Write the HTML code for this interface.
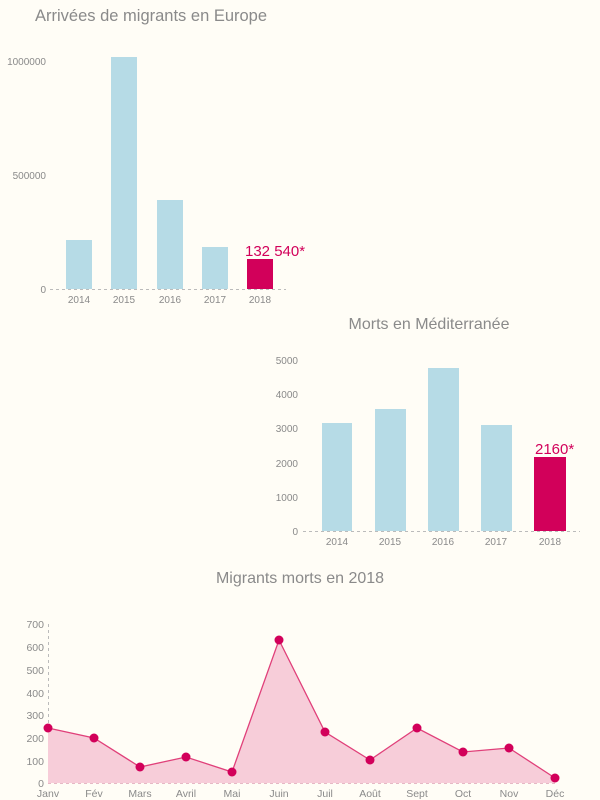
<!DOCTYPE html>
<html><head><meta charset="utf-8"><style>
html,body{margin:0;padding:0;background:#fffdf6;}
svg{display:block;font-family:"Liberation Sans",sans-serif;}
</style></head><body>
<svg width="600" height="800" viewBox="0 0 600 800" xmlns="http://www.w3.org/2000/svg">
<rect width="600" height="800" fill="#fffdf6"/>
<!-- Chart 1 -->
<text x="35" y="21" font-size="16.5" fill="#8a8a8a">Arrivées de migrants en Europe</text>
<g font-size="10" fill="#8a8a8a" text-anchor="end">
<text x="46" y="65">1000000</text>
<text x="46" y="179">500000</text>
<text x="46" y="293">0</text>
</g>
<g fill="#b6dbe6">
<rect x="66" y="240" width="26" height="49"/>
<rect x="111" y="57" width="26" height="232"/>
<rect x="157" y="200" width="26" height="89"/>
<rect x="202" y="247" width="26" height="42"/>
</g>
<rect x="247" y="259" width="26" height="30" fill="#d2005a"/>
<line x1="50" y1="289.5" x2="286" y2="289.5" stroke="#bbb" stroke-dasharray="3,3"/>
<text x="245" y="256" font-size="15" fill="#d2005a">132 540*</text>
<g font-size="10" fill="#8a8a8a" text-anchor="middle">
<text x="79" y="303">2014</text><text x="124" y="303">2015</text><text x="170" y="303">2016</text><text x="215" y="303">2017</text><text x="260" y="303">2018</text>
</g>
<!-- Chart 2 -->
<text x="429" y="329" font-size="16" fill="#8a8a8a" text-anchor="middle">Morts en Méditerranée</text>
<g font-size="10" fill="#8a8a8a" text-anchor="end">
<text x="298" y="364">5000</text><text x="298" y="398">4000</text><text x="298" y="432">3000</text><text x="298" y="467">2000</text><text x="298" y="501">1000</text><text x="298" y="535">0</text>
</g>
<g fill="#b6dbe6">
<rect x="322" y="423" width="30" height="108"/>
<rect x="375" y="409" width="31" height="122"/>
<rect x="428" y="368" width="31" height="163"/>
<rect x="481" y="425" width="31" height="106"/>
</g>
<rect x="534" y="457" width="32" height="74" fill="#d2005a"/>
<line x1="303" y1="531.5" x2="580" y2="531.5" stroke="#bbb" stroke-dasharray="3,3"/>
<text x="535" y="454" font-size="15" fill="#d2005a">2160*</text>
<g font-size="10" fill="#8a8a8a" text-anchor="middle">
<text x="337" y="545">2014</text><text x="390" y="545">2015</text><text x="443" y="545">2016</text><text x="496" y="545">2017</text><text x="550" y="545">2018</text>
</g>
<!-- Chart 3 -->
<text x="300" y="583" font-size="16" fill="#8a8a8a" text-anchor="middle">Migrants morts en 2018</text>
<g font-size="10.5" fill="#8a8a8a" text-anchor="end">
<text x="44" y="628">700</text><text x="44" y="651">600</text><text x="44" y="674">500</text><text x="44" y="697">400</text><text x="44" y="719">300</text><text x="44" y="742">200</text><text x="44" y="765">100</text><text x="44" y="787">0</text>
</g>
<line x1="48.5" y1="624" x2="48.5" y2="783" stroke="#bbb" stroke-dasharray="3,3"/>
<polygon fill="#f7cdd9" points="48,783 48,728 94,738 140,767 186,757 232,772 279,640 325,732 370,760 417,728 463,752 509,748 555,778 555,783"/>
<line x1="48" y1="783.5" x2="556" y2="783.5" stroke="#e6b8c5" stroke-dasharray="3,3"/>
<polyline fill="none" stroke="#e0407a" stroke-width="1.3" points="48,728 94,738 140,767 186,757 232,772 279,640 325,732 370,760 417,728 463,752 509,748 555,778"/>
<g fill="#d2005a">
<circle cx="48" cy="728" r="4.5"/><circle cx="94" cy="738" r="4.5"/><circle cx="140" cy="767" r="4.5"/><circle cx="186" cy="757" r="4.5"/><circle cx="232" cy="772" r="4.5"/><circle cx="279" cy="640" r="4.5"/><circle cx="325" cy="732" r="4.5"/><circle cx="370" cy="760" r="4.5"/><circle cx="417" cy="728" r="4.5"/><circle cx="463" cy="752" r="4.5"/><circle cx="509" cy="748" r="4.5"/><circle cx="555" cy="778" r="4.5"/>
</g>
<g font-size="10.5" fill="#8a8a8a" text-anchor="middle">
<text x="48" y="797">Janv</text><text x="94" y="797">Fév</text><text x="140" y="797">Mars</text><text x="186" y="797">Avril</text><text x="232" y="797">Mai</text><text x="279" y="797">Juin</text><text x="325" y="797">Juil</text><text x="370" y="797">Août</text><text x="417" y="797">Sept</text><text x="463" y="797">Oct</text><text x="509" y="797">Nov</text><text x="555" y="797">Déc</text>
</g>
</svg>
</body></html>
